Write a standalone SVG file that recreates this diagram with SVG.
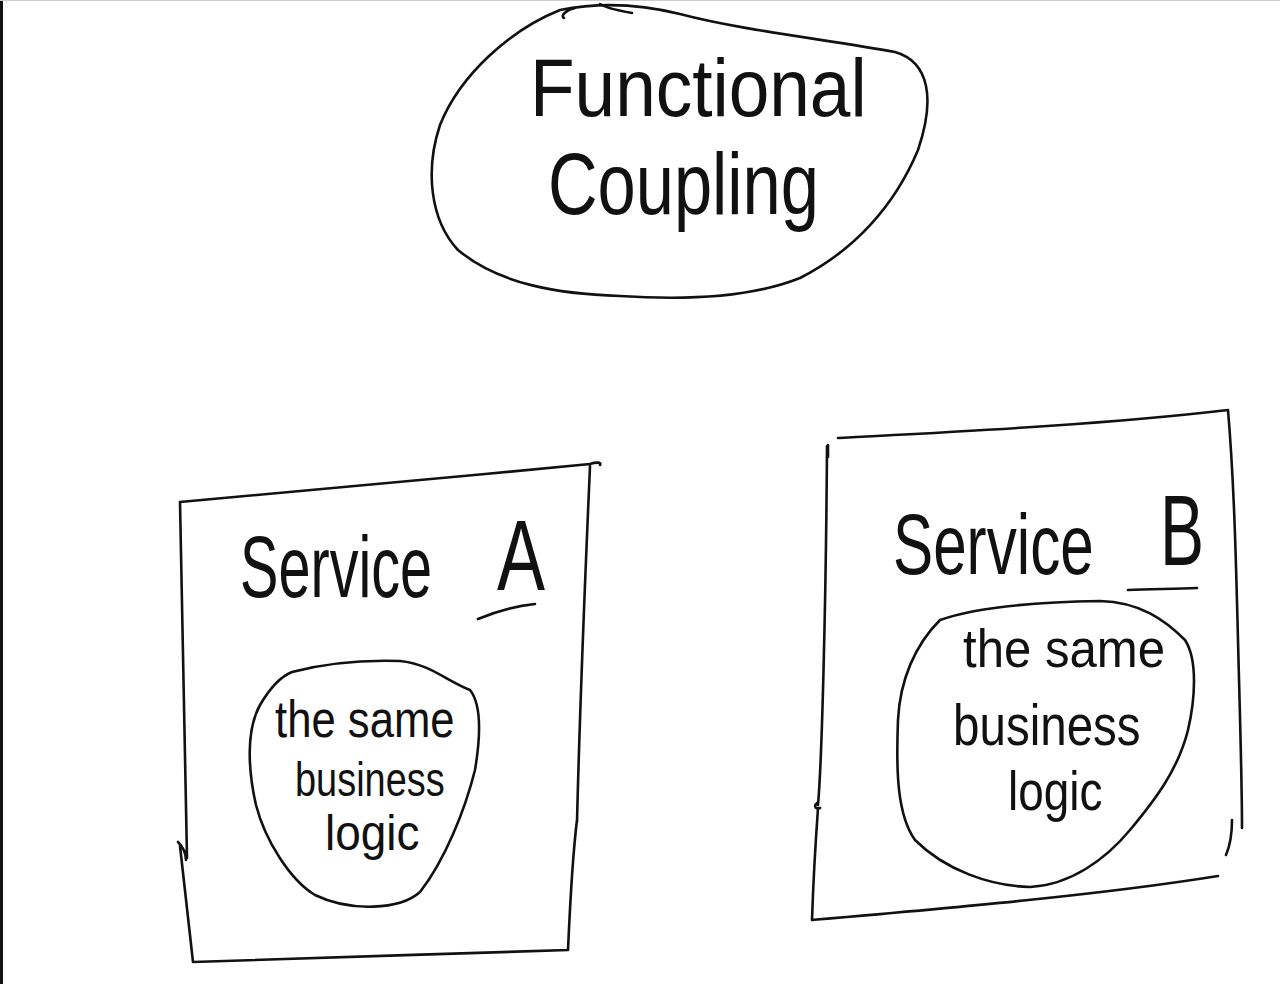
<svg xmlns="http://www.w3.org/2000/svg" width="1280" height="984" viewBox="0 0 1280 984">
<style>
.ink{fill:none;stroke:#111;stroke-width:2.6;stroke-linecap:round;stroke-linejoin:round}
.hw{font-family:"Liberation Sans","DejaVu Sans",sans-serif;fill:#111}
</style>
<rect x="0" y="0" width="1280" height="984" fill="#fff"/>
<rect x="0" y="0" width="3" height="984" fill="#111"/>
<line x1="0" y1="0.5" x2="1280" y2="0.5" stroke="#ccc" stroke-width="1"/>

<g id="functional-coupling">
<path class="ink" d="M560,10 C600,2 640,4 680,14 C740,30 830,40 895,52 C930,62 935,100 918,150 C895,205 855,250 800,278 C750,298 680,300 620,296 C560,294 500,285 458,250 C430,220 425,170 440,125 C460,75 510,30 560,10 Z"/>
<path class="ink" d="M575,8 C566,10 560,16 564,18 M600,4 C606,8 615,10 632,13"/>
<text class="hw" transform="translate(530,116) scale(0.89,1)" font-size="82">Functional</text>
<text class="hw" transform="translate(548,214) scale(0.78,1)" font-size="88">Coupling</text>
</g>

<g id="service-a">
<path class="ink" d="M180,502 C300,490 450,478 590,464 C596,462 602,462 600,465 M180,502 C182,600 185,720 187,858 M178,842 C182,846 186,852 186,860 M180,846 C184,880 188,920 193,962 C300,958 450,954 568,950 M590,466 C585,580 580,700 577,822 M577,820 C572,860 570,905 568,950"/>
<text class="hw" transform="translate(240,597) scale(0.655,1)" font-size="88">Service</text>
<text class="hw" transform="translate(497,590) scale(0.72,1)" font-size="100">A</text>
<path class="ink" d="M478,619 C495,612 515,606 535,604"/>
</g>

<g id="logic-a">
<path class="ink" d="M292,672 C330,662 370,660 400,661 C430,664 445,680 470,690 C482,705 480,740 475,770 C465,810 445,860 420,892 C400,910 350,912 315,895 C290,880 265,840 256,805 C248,770 246,730 260,705 C270,688 282,676 292,672 Z"/>
<text class="hw" transform="translate(275,737) scale(0.84,1)" font-size="52">the same</text>
<text class="hw" transform="translate(295,796) scale(0.79,1)" font-size="48">business</text>
<text class="hw" transform="translate(325,850) scale(0.92,1)" font-size="50">logic</text>
</g>

<g id="service-b">
<path class="ink" d="M838,438 C950,432 1100,425 1228,410 M828,445 C828,455 828,460 828,455 M827,446 C826,600 822,760 818,805 M818,802 C814,805 814,810 820,808 M818,808 C815,850 813,890 812,920 C950,908 1100,895 1218,876 M1228,410 C1234,480 1236,560 1238,640 C1240,720 1242,780 1242,828 M1232,820 C1232,835 1229,848 1226,855"/>
<text class="hw" transform="translate(893,574) scale(0.70,1)" font-size="86">Service</text>
<text class="hw" transform="translate(1160,565) scale(0.66,1)" font-size="100">B</text>
<path class="ink" d="M1128,590 C1150,589 1175,589 1197,588"/>
</g>

<g id="logic-b">
<path class="ink" d="M940,620 C980,606 1040,602 1100,601 C1140,602 1165,620 1185,640 C1198,660 1195,700 1188,730 C1178,770 1155,800 1130,830 C1105,860 1070,885 1030,887 C990,886 945,870 915,840 C897,815 896,770 898,720 C900,680 915,645 940,620 Z"/>
<text class="hw" transform="translate(963,667) scale(0.91,1)" font-size="54">the same</text>
<text class="hw" transform="translate(953,745) scale(0.82,1)" font-size="58">business</text>
<text class="hw" transform="translate(1008,810) scale(0.82,1)" font-size="56">logic</text>
</g>
</svg>
